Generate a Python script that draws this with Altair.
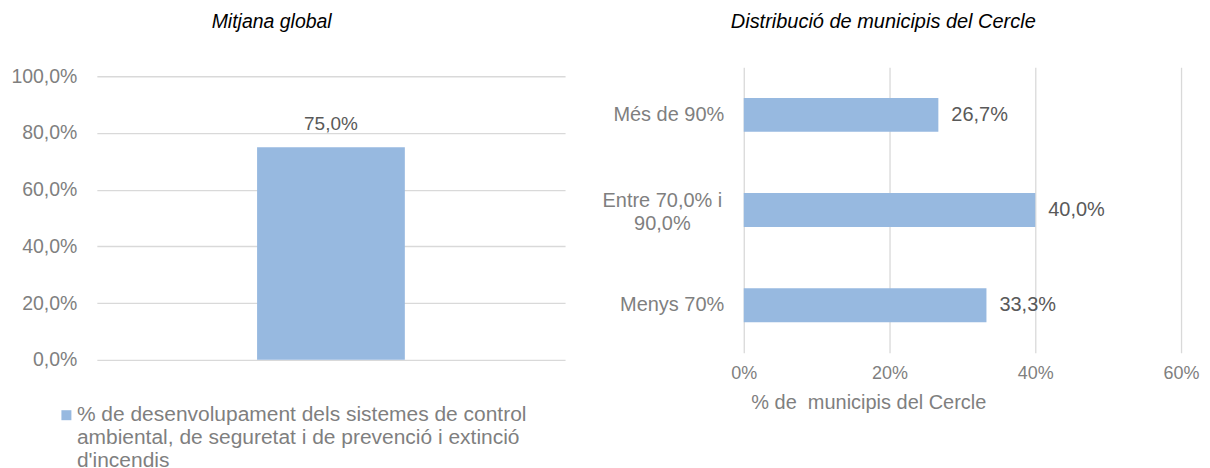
import json
import altair as alt
import pandas as pd

# ---------------- data ----------------
left_title = "Mitjana global"
left_series = ["% de desenvolupament dels sistemes de control ambiental, de seguretat i de prevenció i extinció d'incendis"]
left_legend_lines = [
    "% de desenvolupament dels sistemes de control",
    "ambiental, de seguretat i de prevenció i extinció",
    "d'incendis",
]
left_values = [0.75]
left_ticks = [0, 0.2, 0.4, 0.6, 0.8, 1.0]

right_title = "Distribució de municipis del Cercle"
right_categories = ["Més de 90%", "Entre 70,0% i 90,0%", "Menys 70%"]
right_label_lines = {"Entre 70,0% i 90,0%": ["Entre 70,0% i", "90,0%"]}
right_values = [0.267, 0.400, 0.333]
right_ticks = [0, 0.2, 0.4, 0.6]
right_axis_title = "% de\u00a0 municipis del Cercle"

# ---------------- style ----------------
FONT = "Liberation Sans"
BAR = "#97B9E0"
AXIS_GRAY = "#7F7F7F"
LABEL_GRAY = "#595959"
GRID = "#D9D9D9"

comma_pct_axis = "replace(format(datum.value, '.1%'), '.', ',')"

# ---------------- left panel ----------------
left_df = pd.DataFrame({"serie": left_series, "valor": left_values})

left_base = alt.Chart(left_df).encode(
    x=alt.X("serie:N", axis=None),
    y=alt.Y(
        "valor:Q",
        scale=alt.Scale(domain=[0, 1.0317], nice=False),
        axis=alt.Axis(
            values=left_ticks,
            labelExpr=comma_pct_axis,
            title=None,
            domain=False,
            ticks=False,
            labelPadding=20,
            labelFontSize=19.5,
            labelColor=AXIS_GRAY,
            labelFont=FONT,
            gridColor=GRID,
            gridWidth=1.3,
        ),
    ),
)

left_bars = left_base.mark_bar(size=148).encode(
    color=alt.Color(
        "serie:N",
        scale=alt.Scale(range=[BAR]),
        legend=alt.Legend(
            title=None,
            orient="none",
            legendX=-41,
            legendY=338,
            symbolType="square",
            symbolSize=100,
            symbolStrokeWidth=0,
            labelExpr=json.dumps(left_legend_lines, ensure_ascii=False),
            labelFont=FONT,
            labelFontSize=21,
            labelColor=AXIS_GRAY,
            labelLimit=700,
            labelOffset=0,
            padding=0,
        ),
    )
)

left_text = left_base.mark_text(
    baseline="bottom", dy=-13, fontSize=19, color=LABEL_GRAY, font=FONT
).transform_calculate(
    etiqueta="replace(format(datum.valor, '.1%'), '.', ',')"
).encode(text="etiqueta:N")

left_chart = alt.layer(left_bars, left_text).properties(
    width=469,
    height=293,
    title=alt.TitleParams(
        left_title,
        font=FONT,
        fontSize=19.5,
        fontStyle="italic",
        fontWeight="normal",
        color="black",
        anchor="start",
        frame="group",
        dx=115,
        offset=15,
        baseline="bottom",
    ),
)

# ---------------- right panel ----------------
right_df = pd.DataFrame({"cat": right_categories, "valor": right_values})

special = list(right_label_lines.keys())[0]
test = f"datum.value == '{special}'"
right_label_expr = (
    f"{test} ? {json.dumps(right_label_lines[special], ensure_ascii=False)} : datum.value"
)

right_base = alt.Chart(right_df).encode(
    y=alt.Y(
        "cat:N",
        sort=right_categories,
        scale=alt.Scale(paddingInner=0.644, paddingOuter=0.322),
        axis=alt.Axis(
            title=None,
            domain=False,
            ticks=False,
            labelExpr=right_label_expr,
            labelAlign={"condition": {"test": test, "value": "center"}, "value": "right"},
            labelPadding={"condition": {"test": test, "value": 82}, "value": 20},
            labelOffset={"condition": {"test": test, "value": -9}, "value": 0},
            labelLineHeight=23,
            labelFontSize=20,
            labelColor=AXIS_GRAY,
            labelFont=FONT,
            labelLimit=300,
        ),
    ),
    x=alt.X(
        "valor:Q",
        scale=alt.Scale(domain=[0, 0.6]),
        axis=alt.Axis(
            values=right_ticks,
            format=".0%",
            grid=True,
            gridColor=GRID,
            gridWidth=1.3,
            domain=False,
            ticks=False,
            labelFlush=False,
            labelPadding=12,
            labelFontSize=18,
            labelColor=AXIS_GRAY,
            labelFont=FONT,
            title=right_axis_title,
            titleFont=FONT,
            titleFontSize=20,
            titleFontWeight="normal",
            titleColor=AXIS_GRAY,
            titleAnchor="start",
            titleAlign="left",
            titleX=7,
            titlePadding=10,
        ),
    ),
)

right_bars = right_base.mark_bar(color=BAR)
right_text = right_base.mark_text(
    align="left", baseline="middle", dx=13, fontSize=20, color=LABEL_GRAY, font=FONT
).transform_calculate(
    etiqueta="replace(format(datum.valor, '.1%'), '.', ',')"
).encode(text="etiqueta:N")

right_chart = alt.layer(right_bars, right_text).properties(
    width=438,
    height=286,
    title=alt.TitleParams(
        right_title,
        font=FONT,
        fontSize=20,
        fontStyle="italic",
        fontWeight="normal",
        color="black",
        anchor="start",
        frame="group",
        dx=-13,
        offset=15,
        baseline="bottom",
    ),
)

chart = (
    alt.hconcat(left_chart, right_chart, spacing=36)
    .properties(padding={"left": 2, "top": 3, "right": 2, "bottom": 0})
    .configure(font=FONT)
    .configure_view(strokeWidth=0)
)

chart.save("out.html", embed_options={"renderer": "svg", "actions": False})
